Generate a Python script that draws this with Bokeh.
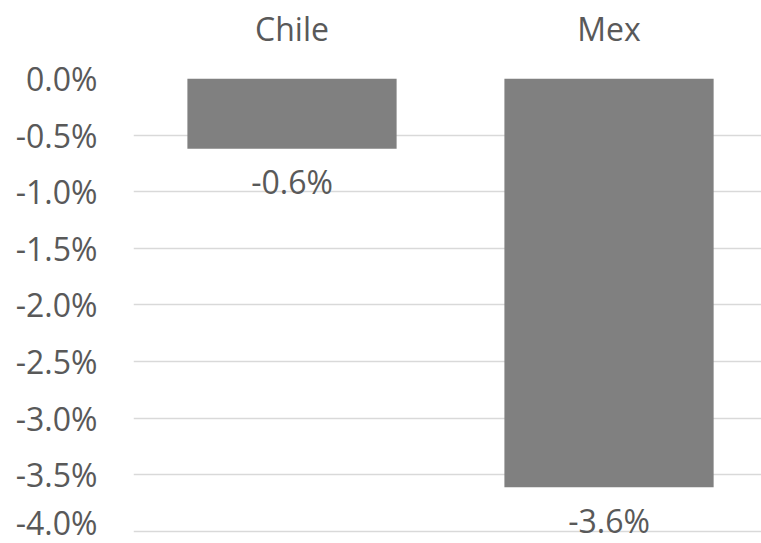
from bokeh.plotting import figure
from bokeh.models import Range1d, FixedTicker, PrintfTickFormatter, LinearAxis, ColumnDataSource
from bokeh.embed import file_html
from bokeh.resources import INLINE
from bokeh.core.properties import value

categories = ["Chile", "Mex"]
changes = [-0.62, -3.61]
labels = ["-0.6%", "-3.6%"]
y_ticks = [0.0, -0.5, -1.0, -1.5, -2.0, -2.5, -3.0, -3.5, -4.0]

positions = [i + 0.5 for i in range(len(categories))]

FONT = "Open Sans"
TXT = "#595959"

p = figure(width=761, height=543, output_backend="svg", toolbar_location=None,
           x_range=Range1d(0, 1.981), y_range=Range1d(-4.106, 0.0),
           x_axis_location=None, min_border_left=133, min_border_right=0,
           min_border_top=78, min_border_bottom=0)
p.outline_line_color = None
p.background_fill_color = "white"
p.border_fill_color = "white"

src = ColumnDataSource(dict(x=positions, top=[0.0] * len(changes), bottom=changes, lab=labels, cat=categories))

p.xgrid.visible = False
p.ygrid.ticker = FixedTicker(ticks=y_ticks)
p.ygrid.grid_line_color = "#d9d9d9"
p.ygrid.grid_line_width = 1.3

p.vbar(x="x", top="top", bottom="bottom", width=0.66, source=src, fill_color="#808080", line_color=None)

p.text(x="x", y="bottom", text="lab", source=src, text_align="center", text_baseline="middle",
       y_offset=33, text_font=value(FONT), text_font_size="32px", text_color=TXT)

yax = p.yaxis[0]
yax.ticker = FixedTicker(ticks=y_ticks)
yax.formatter = PrintfTickFormatter(format="%.1f%%")
yax.axis_line_color = None
yax.major_tick_line_color = None
yax.minor_tick_line_color = None
yax.major_label_standoff = 30
yax.major_label_text_font = FONT
yax.major_label_text_font_size = "32px"
yax.major_label_text_color = TXT

top_ax = LinearAxis(ticker=FixedTicker(ticks=positions),
                    major_label_overrides={pos: c for pos, c in zip(positions, categories)})
top_ax.axis_line_color = None
top_ax.major_tick_line_color = None
top_ax.minor_tick_line_color = None
top_ax.major_label_standoff = 23
top_ax.major_label_text_font = FONT
top_ax.major_label_text_font_size = "32px"
top_ax.major_label_text_color = TXT
p.add_layout(top_ax, "above")

open("out.html", "w").write(file_html(p, INLINE))
